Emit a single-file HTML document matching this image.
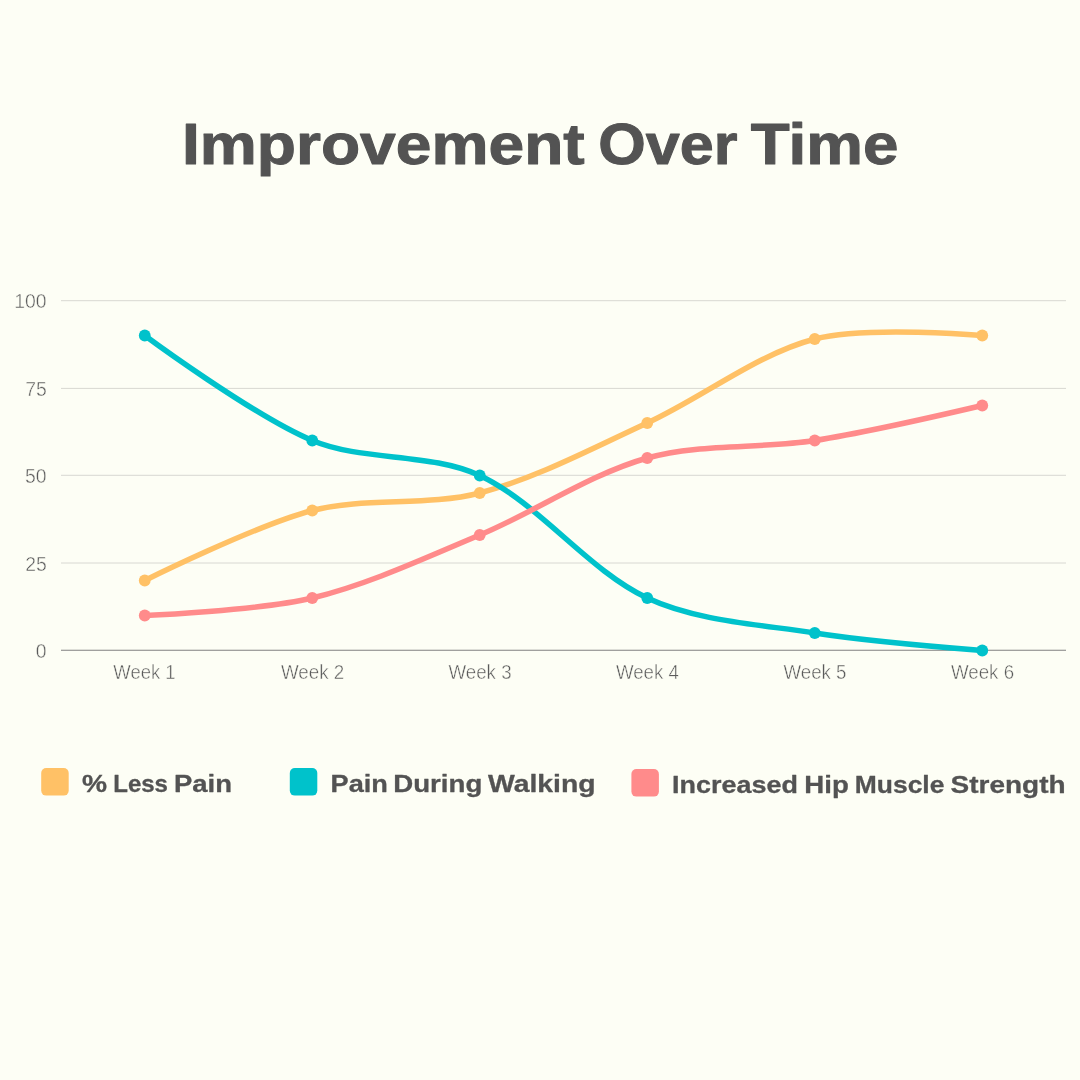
<!DOCTYPE html>
<html><head><meta charset="utf-8"><title>Improvement Over Time</title>
<style>
html,body{margin:0;padding:0}
body{width:1080px;height:1080px;background:#FDFEF5;overflow:hidden}
svg{display:block;font-family:"Liberation Sans",sans-serif}
.title,.lg{font-weight:bold;fill:#535353;stroke:#535353;stroke-linejoin:round}
.ax{fill:#5a5a5a;stroke:#FDFEF5;stroke-width:0.45}
</style></head><body>
<svg width="1080" height="1080" viewBox="0 0 1080 1080">
<g stroke="#d8d8d2" stroke-width="1">
<line x1="61" x2="1066" y1="300.7" y2="300.7"/>
<line x1="61" x2="1066" y1="388.4" y2="388.4"/>
<line x1="61" x2="1066" y1="475.3" y2="475.3"/>
<line x1="61" x2="1066" y1="563.0" y2="563.0"/>
</g>
<line x1="61" x2="1066" y1="650.3" y2="650.3" stroke="#808080" stroke-width="1.1"/>
<g fill="#FFC166"><path d="M144.75 580.50 C144.75 580.50 255.77 525.25 312.25 510.50 C364.65 496.81 427.35 506.69 479.75 493.00 C536.23 478.25 593.67 447.63 647.25 423.00 C702.55 397.58 757.27 354.01 814.75 339.00 C866.14 325.58 982.25 335.50 982.25 335.50" fill="none" stroke="#FFC166" stroke-width="5.5" stroke-linecap="round" stroke-linejoin="round"/>
<circle cx="144.75" cy="580.50" r="5.9"/>
<circle cx="312.25" cy="510.50" r="5.9"/>
<circle cx="479.75" cy="493.00" r="5.9"/>
<circle cx="647.25" cy="423.00" r="5.9"/>
<circle cx="814.75" cy="339.00" r="5.9"/>
<circle cx="982.25" cy="335.50" r="5.9"/>
</g>
<g fill="#00C2CB"><path d="M144.75 335.50 C144.75 335.50 253.89 416.11 312.25 440.50 C362.77 461.61 430.55 452.37 479.75 475.50 C539.42 503.55 587.58 569.95 647.25 598.00 C696.45 621.13 759.88 624.40 814.75 633.00 C868.75 641.46 982.25 650.50 982.25 650.50" fill="none" stroke="#00C2CB" stroke-width="5.5" stroke-linecap="round" stroke-linejoin="round"/>
<circle cx="144.75" cy="335.50" r="5.9"/>
<circle cx="312.25" cy="440.50" r="5.9"/>
<circle cx="479.75" cy="475.50" r="5.9"/>
<circle cx="647.25" cy="598.00" r="5.9"/>
<circle cx="814.75" cy="633.00" r="5.9"/>
<circle cx="982.25" cy="650.50" r="5.9"/>
</g>
<g fill="#FF8B8B"><path d="M144.75 615.50 C144.75 615.50 259.46 610.68 312.25 598.00 C368.34 584.52 426.12 557.41 479.75 535.00 C535.00 511.91 590.35 474.05 647.25 458.00 C699.23 443.34 760.75 448.96 814.75 440.50 C869.62 431.90 982.25 405.50 982.25 405.50" fill="none" stroke="#FF8B8B" stroke-width="5.5" stroke-linecap="round" stroke-linejoin="round"/>
<circle cx="144.75" cy="615.50" r="5.9"/>
<circle cx="312.25" cy="598.00" r="5.9"/>
<circle cx="479.75" cy="535.00" r="5.9"/>
<circle cx="647.25" cy="458.00" r="5.9"/>
<circle cx="814.75" cy="440.50" r="5.9"/>
<circle cx="982.25" cy="405.50" r="5.9"/>
</g>
<text class="title" font-size="57.0" stroke-width="1.0"><tspan x="181.91" y="163.90" textLength="402.77" lengthAdjust="spacingAndGlyphs">Improvement</tspan> <tspan x="598.19" y="163.90" textLength="139.23" lengthAdjust="spacingAndGlyphs">Over</tspan> <tspan x="750.79" y="163.90" textLength="147.57" lengthAdjust="spacingAndGlyphs">Time</tspan></text>
<text class="ax" font-size="20"><tspan x="14.29" y="308.20" textLength="32.37" lengthAdjust="spacingAndGlyphs">100</tspan></text>
<text class="ax" font-size="20"><tspan x="25.14" y="395.70" textLength="21.58" lengthAdjust="spacingAndGlyphs">75</tspan></text>
<text class="ax" font-size="20"><tspan x="25.08" y="483.20" textLength="21.58" lengthAdjust="spacingAndGlyphs">50</tspan></text>
<text class="ax" font-size="20"><tspan x="25.14" y="570.70" textLength="21.58" lengthAdjust="spacingAndGlyphs">25</tspan></text>
<text class="ax" font-size="20"><tspan x="35.87" y="658.20" textLength="10.79" lengthAdjust="spacingAndGlyphs">0</tspan></text>
<text class="ax" font-size="20"><tspan x="113.32" y="679.00" textLength="62.18" lengthAdjust="spacingAndGlyphs">Week 1</tspan></text>
<text class="ax" font-size="20"><tspan x="280.97" y="679.00" textLength="63.22" lengthAdjust="spacingAndGlyphs">Week 2</tspan></text>
<text class="ax" font-size="20"><tspan x="448.47" y="679.00" textLength="63.10" lengthAdjust="spacingAndGlyphs">Week 3</tspan></text>
<text class="ax" font-size="20"><tspan x="615.97" y="679.00" textLength="62.82" lengthAdjust="spacingAndGlyphs">Week 4</tspan></text>
<text class="ax" font-size="20"><tspan x="783.47" y="679.00" textLength="63.06" lengthAdjust="spacingAndGlyphs">Week 5</tspan></text>
<text class="ax" font-size="20"><tspan x="950.97" y="679.00" textLength="63.10" lengthAdjust="spacingAndGlyphs">Week 6</tspan></text>
<rect x="41.2" y="768.1" width="27.5" height="27.5" rx="5" fill="#FFC166"/>
<text class="lg" font-size="24.0" stroke-width="0.3"><tspan x="82.05" y="791.60" textLength="25.04" lengthAdjust="spacingAndGlyphs">%</tspan> <tspan x="113.24" y="791.60" textLength="54.69" lengthAdjust="spacingAndGlyphs">Less</tspan> <tspan x="174.01" y="791.60" textLength="58.04" lengthAdjust="spacingAndGlyphs">Pain</tspan></text>
<rect x="289.8" y="768.1" width="27.5" height="27.5" rx="5" fill="#00C2CB"/>
<text class="lg" font-size="24.0" stroke-width="0.3"><tspan x="330.64" y="791.60" textLength="57.30" lengthAdjust="spacingAndGlyphs">Pain</tspan> <tspan x="393.30" y="791.60" textLength="89.00" lengthAdjust="spacingAndGlyphs">During</tspan> <tspan x="487.92" y="791.60" textLength="107.71" lengthAdjust="spacingAndGlyphs">Walking</tspan></text>
<rect x="631.4" y="769.1" width="27.5" height="27.5" rx="5" fill="#FF8B8B"/>
<text class="lg" font-size="24.0" stroke-width="0.3"><tspan x="672.10" y="792.60" textLength="125.78" lengthAdjust="spacingAndGlyphs">Increased</tspan> <tspan x="804.30" y="792.60" textLength="44.48" lengthAdjust="spacingAndGlyphs">Hip</tspan> <tspan x="854.78" y="792.60" textLength="89.67" lengthAdjust="spacingAndGlyphs">Muscle</tspan> <tspan x="950.54" y="792.60" textLength="115.04" lengthAdjust="spacingAndGlyphs">Strength</tspan></text>
</svg>
</body></html>
